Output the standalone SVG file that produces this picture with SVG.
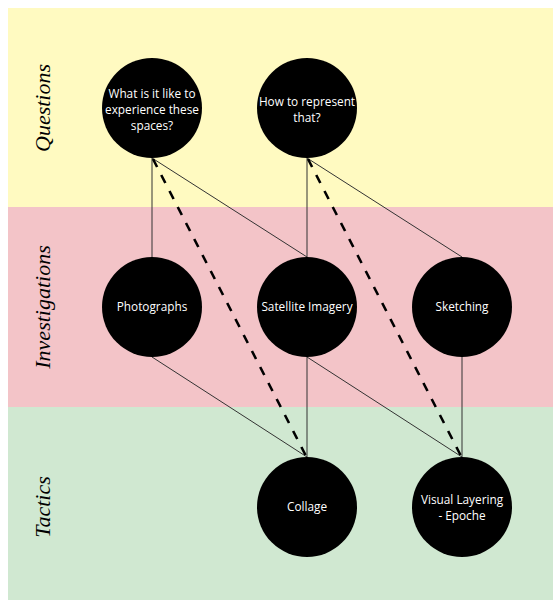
<svg xmlns="http://www.w3.org/2000/svg" width="553" height="600" viewBox="0 0 553 600">
<defs>
<style>
.band-label{font-family:"Liberation Serif","DejaVu Serif",serif;font-style:italic;font-size:22px;fill:#000;text-anchor:middle}
.node circle{fill:#000}
.node text{font-family:"Open Sans","Noto Sans","DejaVu Sans",sans-serif;font-size:11.8px;fill:#fff;text-anchor:middle}
.solid{stroke:#333;stroke-width:1;fill:none}
.dash{stroke:#000;stroke-width:2.6;stroke-dasharray:9 9;fill:none}
</style>
</defs>
<rect x="8" y="8" width="545" height="199" fill="#fffac1"/>
<rect x="8" y="207" width="545" height="200" fill="#f3c4c8"/>
<rect x="8" y="407" width="545" height="193" fill="#d0e8d1"/>
<text class="band-label" transform="translate(50,108) rotate(-90)">Questions</text>
<text class="band-label" transform="translate(50,307) rotate(-90)">Investigations</text>
<text class="band-label" transform="translate(50,507) rotate(-90)">Tactics</text>
<g id="connectors">
<line class="solid" x1="152" y1="158" x2="152" y2="257"/>
<line class="solid" x1="152" y1="158" x2="307" y2="257"/>
<line class="solid" x1="307" y1="158" x2="307" y2="257"/>
<line class="solid" x1="307" y1="158" x2="462" y2="257"/>
<line class="solid" x1="152" y1="357" x2="307" y2="457"/>
<line class="solid" x1="307" y1="357" x2="307" y2="457"/>
<line class="solid" x1="307" y1="357" x2="462" y2="457"/>
<line class="solid" x1="462" y1="357" x2="462" y2="457"/>
<line class="dash" x1="153" y1="159" x2="306" y2="456"/>
<line class="dash" x1="308" y1="159" x2="461" y2="456"/>
</g>
<g id="q1" class="node"><circle cx="152" cy="108" r="50"/><text x="152" y="98">What is it like to</text><text x="152" y="114">experience these</text><text x="152" y="130">spaces?</text></g>
<g id="q2" class="node"><circle cx="307" cy="108" r="50"/><text x="307" y="106">How to represent</text><text x="307" y="122">that?</text></g>
<g id="photographs" class="node"><circle cx="152" cy="307" r="50"/><text x="152" y="311">Photographs</text></g>
<g id="satellite" class="node"><circle cx="307" cy="307" r="50"/><text x="307" y="311">Satellite Imagery</text></g>
<g id="sketching" class="node"><circle cx="462" cy="307" r="50"/><text x="462" y="311">Sketching</text></g>
<g id="collage" class="node"><circle cx="307" cy="507" r="50"/><text x="307" y="511">Collage</text></g>
<g id="layering" class="node"><circle cx="462" cy="507" r="50"/><text x="462" y="504">Visual Layering</text><text x="462" y="520">- Epoche</text></g>
</svg>
